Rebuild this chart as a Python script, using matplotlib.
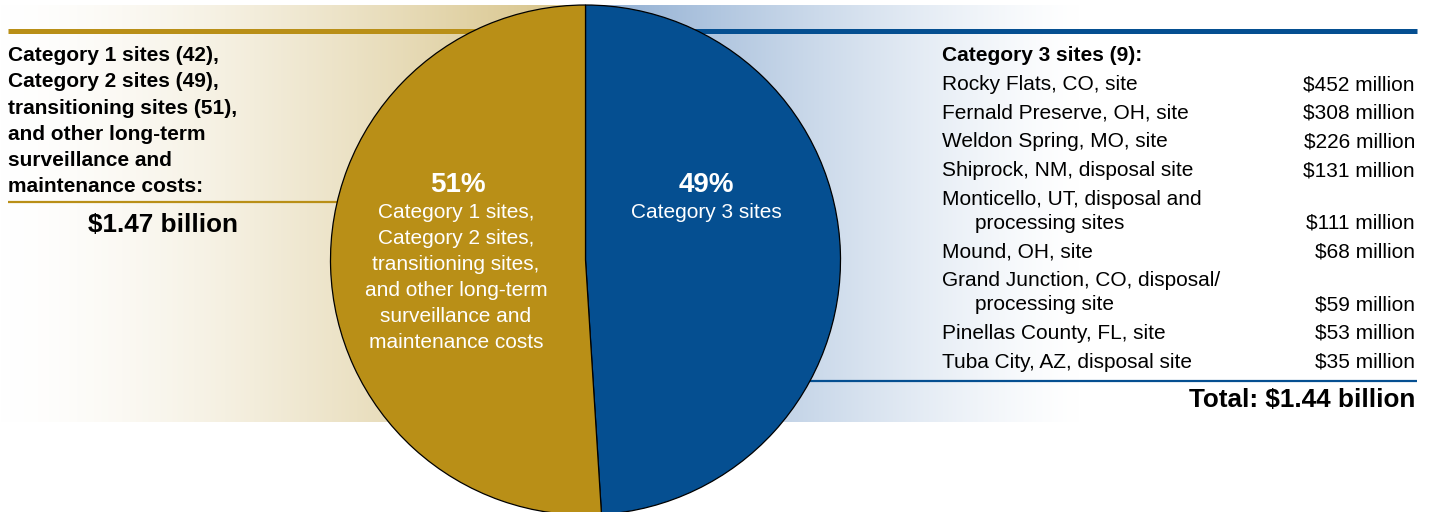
import numpy as np
import matplotlib
matplotlib.use("Agg")
import matplotlib.pyplot as plt

plt.rcParams['font.family'] = ['Liberation Sans', 'DejaVu Sans']

# ---- data ----
share_values = [49, 51]  # Category 3 first (blue), then others (gold)
share_pct_labels = ["49%", "51%"]
share_desc = ["Category 3 sites",
              "Category 1 sites,\nCategory 2 sites,\ntransitioning sites,\nand other long-term\nsurveillance and\nmaintenance costs"]
left_heading = ("Category 1 sites (42),\nCategory 2 sites (49),\ntransitioning sites (51),\n"
                "and other long-term\nsurveillance and\nmaintenance costs:")
left_total = "$1.47 billion"
right_heading = "Category 3 sites (9):"
site_names = ["Rocky Flats, CO, site",
              "Fernald Preserve, OH, site",
              "Weldon Spring, MO, site",
              "Shiprock, NM, disposal site",
              "Monticello, UT, disposal and\nprocessing sites",
              "Mound, OH, site",
              "Grand Junction, CO, disposal/\nprocessing site",
              "Pinellas County, FL, site",
              "Tuba City, AZ, disposal site"]
site_costs = [452, 308, 226, 131, 111, 68, 59, 53, 35]
right_total = "Total: $1.44 billion"

GOLD = '#B98F17'
BLUE = '#054F91'

W, H = 1429, 512
fig = plt.figure(figsize=(W / 100, H / 100), dpi=100)
ax = fig.add_axes([0, 0, 1, 1])

def Y(p):
    return H - p

# ---- gradient backgrounds ----
n = 400
f = np.linspace(0, 1, n)
white = np.array([1.0, 1.0, 1.0])
gold_end = np.array([213, 192, 130]) / 255
blue_start = np.array([138, 170, 208]) / 255
left_img = white[None, :] + (gold_end - white)[None, :] * (f ** 1.5)[:, None]
right_img = white[None, :] + (blue_start - white)[None, :] * ((1 - f) ** 1.3)[:, None]
ax.imshow(left_img[None, :, :], extent=[0, 585, Y(422), Y(5)], aspect='auto', zorder=0,
          interpolation='bilinear')
ax.imshow(right_img[None, :, :], extent=[585, 1080, Y(422), Y(5)], aspect='auto', zorder=0,
          interpolation='bilinear')

# ---- rules ----
ax.plot([8, 600], [Y(31), Y(31)], color=GOLD, lw=3.6, solid_capstyle='butt', zorder=1)
ax.plot([600, 1417], [Y(31), Y(31)], color=BLUE, lw=3.6, solid_capstyle='butt', zorder=1)
ax.plot([8, 340], [Y(202), Y(202)], color=GOLD, lw=1.6, solid_capstyle='butt', zorder=1)
ax.plot([780, 1417], [Y(381), Y(381)], color=BLUE, lw=1.6, solid_capstyle='butt', zorder=1)

# ---- pie ----
cx, cy, r = 585.5, Y(260), 255
ax.pie(share_values, colors=[BLUE, GOLD], startangle=90, counterclock=False,
       center=(cx, cy), radius=r, frame=True,
       wedgeprops=dict(edgecolor='black', linewidth=0.9))
ax.set_xlim(0, W)
ax.set_ylim(0, H)
ax.set_aspect('auto')
ax.axis('off')

# pie labels
FS = 15
ax.text(706, Y(192), share_pct_labels[0], color='white', fontsize=20, fontweight='bold',
        ha='center', va='baseline', zorder=5)
ax.text(706, Y(217.5), share_desc[0], color='white', fontsize=FS, ha='center', va='baseline', zorder=5)
ax.text(458, Y(192), share_pct_labels[1], color='white', fontsize=20, fontweight='bold',
        ha='center', va='baseline', zorder=5)
for i, line in enumerate(share_desc[1].split('\n')):
    ax.text(456, Y(218.5 + 26 * i), line, color='white', fontsize=FS, ha='center', va='baseline', zorder=5)

# ---- left block ----
for i, line in enumerate(left_heading.split('\n')):
    ax.text(8, Y(61 + 26.3 * i), line, fontsize=FS, fontweight='bold', ha='left', va='baseline', color='black')
ax.text(163.5, Y(232), left_total, fontsize=18.8, fontweight='bold', ha='center', va='baseline', color='black')

# ---- right block ----
ax.text(942, Y(61), right_heading, fontsize=FS, fontweight='bold', ha='left', va='baseline')
yy = 90
for name, cost in zip(site_names, site_costs):
    lines = name.split('\n')
    for j, ln in enumerate(lines):
        ax.text(942 + (33 if j > 0 else 0), Y(yy + 24 * j), ln, fontsize=FS, ha='left', va='baseline')
    last = yy + 24 * (len(lines) - 1)
    ax.text(1415, Y(last), f"${cost} million", fontsize=FS, ha='right', va='baseline')
    yy = last + 28.7

ax.text(1415, Y(407), right_total, fontsize=18.8, fontweight='bold', ha='right', va='baseline')

fig.savefig('out.png', dpi=100)
